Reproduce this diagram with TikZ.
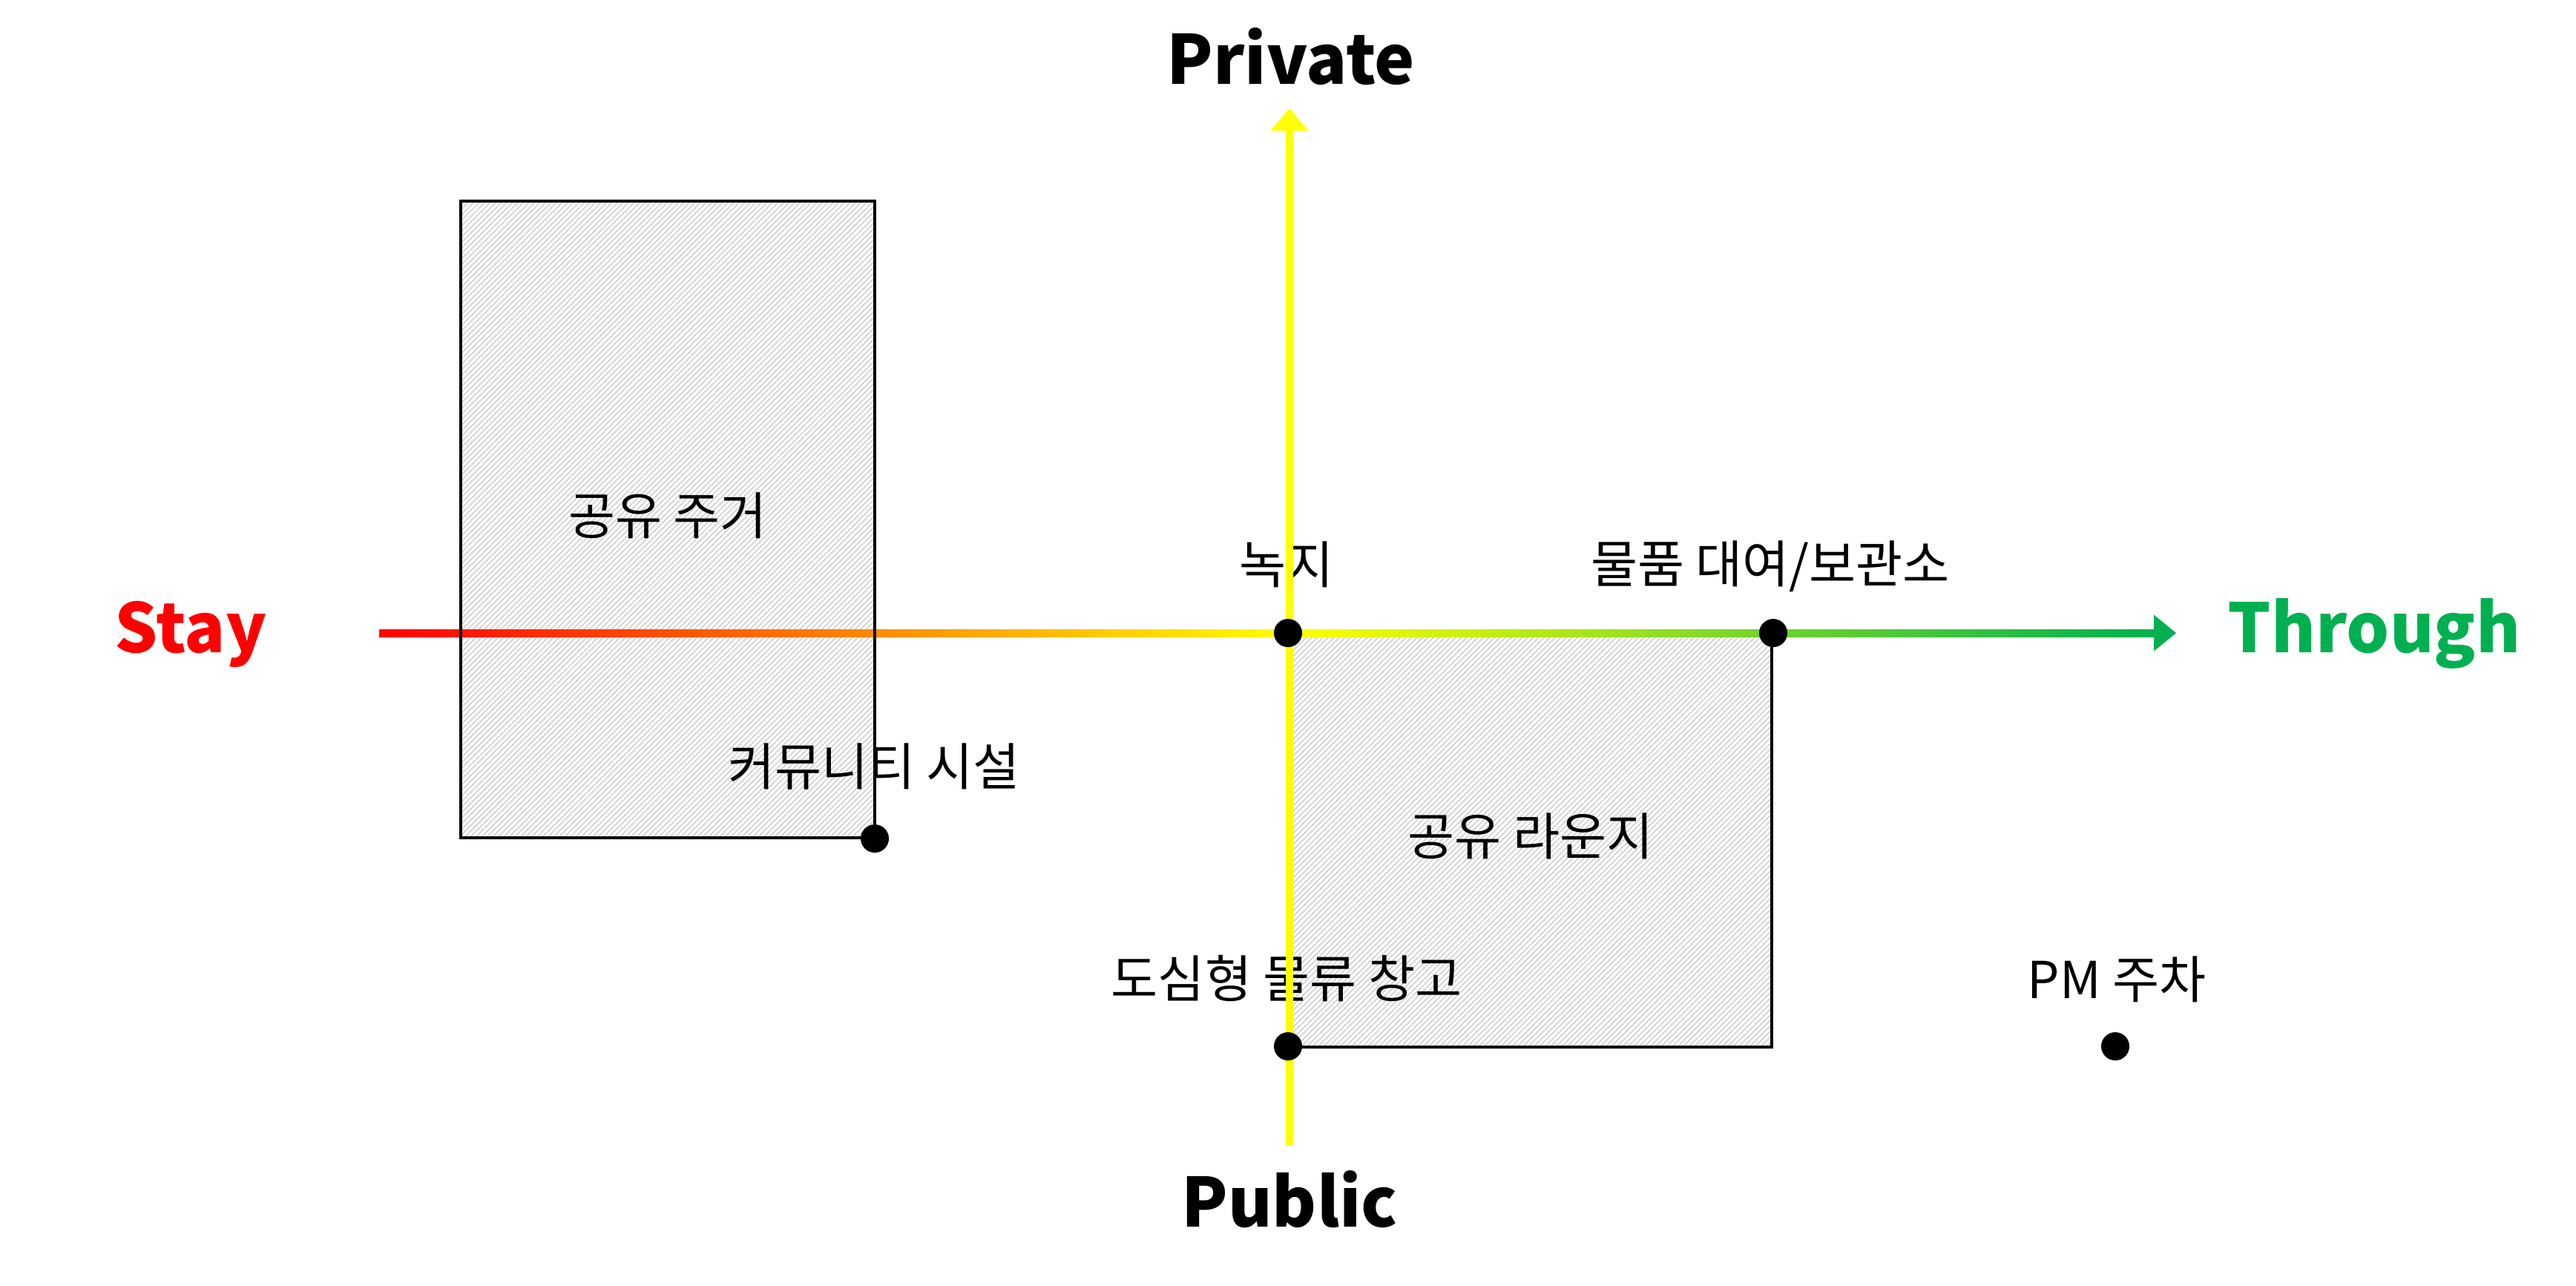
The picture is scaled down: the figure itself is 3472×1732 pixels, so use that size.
\documentclass[tikz,border=0pt]{standalone}
\usepackage{fontspec}
\setmainfont{Noto Sans CJK KR}
\usetikzlibrary{patterns.meta,arrows.meta}
\definecolor{grn}{HTML}{00B050}
\definecolor{ylw}{HTML}{FFFF00}
\definecolor{hatchc}{HTML}{CFCFCF}
\pgfdeclarehorizontalshading{axisgrad}{100bp}{color(0bp)=(red); color(25bp)=(red); color(50.65bp)=(ylw); color(75bp)=(grn); color(100bp)=(grn)}
\begin{document}
\begin{tikzpicture}[x=0.01cm,y=-0.01cm,
  lbl/.style={font=\fontsize{19.5}{23}\selectfont, inner sep=0pt, anchor=center},
  axlbl/.style={font=\fontsize{26}{31}\selectfont\bfseries, inner sep=0pt, anchor=base},
  hatchbox/.style={pattern={Lines[angle=45,distance=1.5pt,line width=0.45pt]}, pattern color=hatchc},
  border/.style={draw=black, line width=1.3pt},
  dot/.style={circle, fill=black, minimum size=0.38cm, inner sep=0pt},
]
\useasboundingbox (0,0) rectangle (3472,1732);
% boxes
\coordinate (r1a) at (621,271);
\coordinate (r1b) at (1179,1129);
\coordinate (r2a) at (1738,853);
\coordinate (r2b) at (2388,1411);
\fill[hatchbox] (r1a) rectangle (r1b);
\fill[hatchbox] (r2a) rectangle (r2b);
\draw[border] (r2a) rectangle (r2b);
% labels
\node[lbl] (house) at (900,695) {공유 주거};
\node[lbl] (green) at (1734,761) {녹지};
\node[lbl] (rent) at (2386,763) {물품 대여/보관소};
\node[lbl] (comm) at (1178,1033) {커뮤니티 시설};
\node[lbl] (lounge) at (2063,1127) {공유 라운지};
\node[lbl] (ware) at (1734,1319) {도심형 물류 창고};
\node[lbl] (pm) at (2853,1320) {PM 주차};
\node[axlbl] (priv) at (1740,113) {Private};
\node[axlbl] (pub) at (1738,1653) {Public};
\node[axlbl, text=red] (stay) at (257,879) {Stay};
\node[axlbl, text=grn] (thr) at (3200,879) {Through};
% horizontal axis
\coordinate (hs) at (511,853);
\coordinate (hb) at (2905,853);
\coordinate (ht) at (2933,853);
\shade[shading=axisgrad] ([yshift=0.05cm]hs) rectangle ([yshift=-0.05cm]hb);
\fill[grn] (ht) -- ([xshift=-0.3cm,yshift=0.245cm]ht) -- ([xshift=-0.3cm,yshift=-0.245cm]ht) -- cycle;
% vertical axis
\coordinate (vs) at (1738,1543);
\coordinate (vt) at (1738,146);
\draw[ylw, line width=2.7pt, -{Triangle[length=0.3cm,width=0.49cm]}] (vs) -- (vt);
% box 1 border
\draw[border] (r1a) rectangle (r1b);
% dots
\node[dot] (d1) at (1736,853) {};
\node[dot] (d2) at (2390,853) {};
\node[dot] (d3) at (1179,1130) {};
\node[dot] (d4) at (1736,1410) {};
\node[dot] (d5) at (2851,1410) {};
\end{tikzpicture}
\end{document}
